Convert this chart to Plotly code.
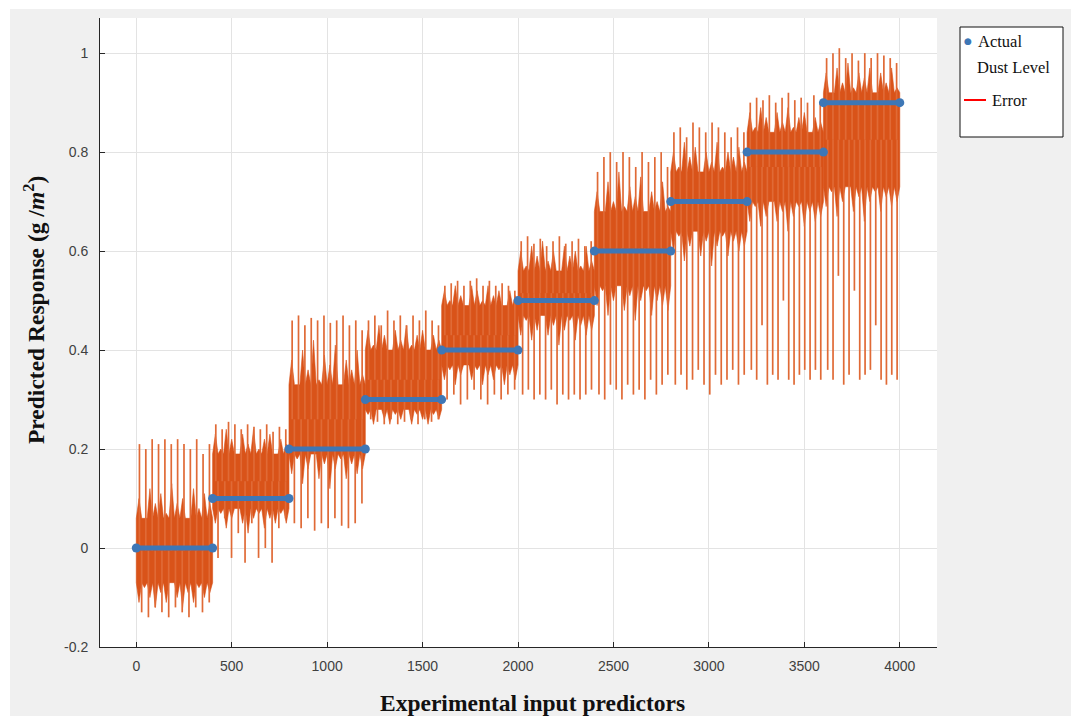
import numpy as np
import plotly.graph_objects as go

# ---------------- data ----------------
levels = [0.0, 0.1, 0.2, 0.3, 0.4, 0.5, 0.6, 0.7, 0.8, 0.9]
block_start = [0, 400, 800, 1200, 1600, 2000, 2400, 2800, 3200, 3600]
block_len = 400

# dense band of predictions: jagged upper / lower edge of each block
band_top = [
    [0.10, 0.06, 0.12, 0.09, 0.11, 0.07, 0.13, 0.09, 0.10, 0.06, 0.12, 0.08, 0.11, 0.09],
    [0.23, 0.20, 0.24, 0.22, 0.19, 0.23, 0.21, 0.24, 0.20, 0.22, 0.23, 0.19, 0.22, 0.21],
    [0.38, 0.33, 0.40, 0.36, 0.42, 0.34, 0.39, 0.37, 0.41, 0.33, 0.38, 0.36, 0.40, 0.35],
    [0.44, 0.41, 0.45, 0.43, 0.40, 0.44, 0.42, 0.45, 0.41, 0.43, 0.44, 0.40, 0.43, 0.42],
    [0.52, 0.50, 0.53, 0.51, 0.49, 0.53, 0.52, 0.50, 0.53, 0.51, 0.52, 0.49, 0.52, 0.51],
    [0.60, 0.57, 0.61, 0.59, 0.62, 0.58, 0.60, 0.56, 0.61, 0.59, 0.60, 0.57, 0.61, 0.58],
    [0.72, 0.68, 0.74, 0.70, 0.76, 0.69, 0.73, 0.71, 0.75, 0.68, 0.72, 0.70, 0.74, 0.69],
    [0.80, 0.77, 0.82, 0.79, 0.81, 0.76, 0.80, 0.78, 0.82, 0.77, 0.80, 0.79, 0.81, 0.78],
    [0.88, 0.85, 0.89, 0.87, 0.84, 0.88, 0.86, 0.89, 0.85, 0.87, 0.88, 0.84, 0.87, 0.86],
    [0.96, 0.92, 0.97, 0.94, 0.98, 0.93, 0.96, 0.95, 0.97, 0.92, 0.96, 0.94, 0.97, 0.93],
]
band_bottom = [
    [-0.11, -0.08, -0.10, -0.12, -0.09, -0.11, -0.07, -0.10, -0.12, -0.09, -0.11, -0.08, -0.10, -0.09],
    [0.05, 0.07, 0.04, 0.06, 0.08, 0.05, 0.03, 0.06, 0.07, 0.04, 0.06, 0.05, 0.07, 0.05],
    [0.15, 0.18, 0.13, 0.16, 0.19, 0.14, 0.17, 0.12, 0.16, 0.18, 0.14, 0.17, 0.15, 0.16],
    [0.27, 0.25, 0.28, 0.26, 0.25, 0.27, 0.26, 0.28, 0.25, 0.27, 0.26, 0.25, 0.27, 0.26],
    [0.34, 0.36, 0.33, 0.35, 0.37, 0.34, 0.36, 0.33, 0.35, 0.34, 0.36, 0.33, 0.35, 0.34],
    [0.43, 0.46, 0.42, 0.44, 0.47, 0.43, 0.45, 0.41, 0.44, 0.46, 0.42, 0.45, 0.43, 0.44],
    [0.49, 0.52, 0.47, 0.50, 0.53, 0.48, 0.51, 0.46, 0.50, 0.52, 0.47, 0.50, 0.49, 0.48],
    [0.60, 0.63, 0.58, 0.61, 0.64, 0.59, 0.62, 0.57, 0.61, 0.63, 0.59, 0.62, 0.60, 0.61],
    [0.66, 0.69, 0.65, 0.67, 0.70, 0.66, 0.68, 0.64, 0.67, 0.69, 0.65, 0.68, 0.66, 0.67],
    [0.69, 0.72, 0.67, 0.70, 0.73, 0.68, 0.71, 0.66, 0.70, 0.72, 0.68, 0.71, 0.69, 0.70],
]

# isolated large excursions (spikes) above and below the band
up_spikes = [
    [0.21, 0.20, 0.22, 0.21, 0.22, 0.21, 0.22, 0.21, 0.20, 0.22, 0.19, 0.21],
    [0.25, 0.24, 0.255, 0.25, 0.24, 0.25, 0.245, 0.24, 0.25, 0.235, 0.245, 0.24],
    [0.46, 0.47, 0.45, 0.465, 0.46, 0.47, 0.455, 0.46, 0.47, 0.45, 0.46, 0.44],
    [0.46, 0.47, 0.45, 0.48, 0.46, 0.47, 0.45, 0.47, 0.46, 0.48, 0.46, 0.45],
    [0.53, 0.535, 0.54, 0.53, 0.54, 0.545, 0.53, 0.54, 0.53, 0.535, 0.53, 0.52],
    [0.62, 0.63, 0.615, 0.625, 0.61, 0.62, 0.63, 0.615, 0.62, 0.625, 0.61, 0.62],
    [0.76, 0.79, 0.80, 0.78, 0.80, 0.79, 0.77, 0.80, 0.78, 0.79, 0.80, 0.77],
    [0.84, 0.85, 0.83, 0.86, 0.85, 0.84, 0.86, 0.85, 0.84, 0.83, 0.85, 0.84],
    [0.90, 0.91, 0.905, 0.915, 0.90, 0.91, 0.92, 0.905, 0.91, 0.90, 0.915, 0.90],
    [0.99, 1.00, 1.01, 0.99, 1.00, 0.985, 1.00, 0.99, 1.00, 0.995, 0.99, 0.98],
]
down_spikes = [
    [-0.13, -0.14, -0.12, -0.13, -0.14, -0.12, -0.13, -0.14, -0.12, -0.13, -0.11],
    [-0.02, 0.06, -0.02, 0.03, -0.03, 0.05, -0.02, 0.00, -0.03, 0.04, 0.06],
    [0.05, 0.04, 0.06, 0.035, 0.05, 0.04, 0.06, 0.045, 0.04, 0.05, 0.09],
    [0.26, 0.255, 0.25, 0.26, 0.25, 0.255, 0.26, 0.25, 0.26, 0.255, 0.26],
    [0.30, 0.31, 0.29, 0.30, 0.32, 0.30, 0.29, 0.31, 0.30, 0.31, 0.32],
    [0.31, 0.32, 0.30, 0.31, 0.30, 0.32, 0.29, 0.31, 0.30, 0.31, 0.30, 0.31, 0.32],
    [0.31, 0.30, 0.33, 0.32, 0.30, 0.33, 0.31, 0.32, 0.30, 0.34, 0.31, 0.33, 0.35],
    [0.33, 0.35, 0.32, 0.34, 0.36, 0.33, 0.31, 0.35, 0.33, 0.34, 0.36, 0.33, 0.35],
    [0.36, 0.34, 0.45, 0.33, 0.35, 0.34, 0.50, 0.34, 0.33, 0.35, 0.36, 0.34, 0.36, 0.34],
    [0.36, 0.34, 0.55, 0.33, 0.35, 0.52, 0.34, 0.35, 0.36, 0.45, 0.34, 0.33, 0.35, 0.34],
]

x_ticks = [0, 500, 1000, 1500, 2000, 2500, 3000, 3500, 4000]
y_ticks = [-0.2, 0, 0.2, 0.4, 0.6, 0.8, 1]
y_tick_text = ["-0.2", "0", "0.2", "0.4", "0.6", "0.8", "1"]

ORANGE = "#D95319"
ORANGE_SPIKE = "#E06A36"
BLUE = "#3E77B6"

fig = go.Figure()

# dense band (jagged polygon) for each block
for i in range(len(levels)):
    x0 = block_start[i]
    top, bot = band_top[i], band_bottom[i]
    n = len(top)
    step = block_len / n
    valley_top = min(top)
    valley_bot = max(bot)
    px, py = [x0], [valley_top]
    for k, v in enumerate(top):
        px += [x0 + (k + 0.5) * step, x0 + (k + 1) * step]
        py += [v, valley_top]
    px += [x0 + block_len]
    py += [valley_bot]
    for k, v in reversed(list(enumerate(bot))):
        px += [x0 + (k + 0.5) * step, x0 + k * step]
        py += [v, valley_bot]
    px += [x0]
    py += [valley_top]
    fig.add_trace(go.Scatter(x=px, y=py, mode="lines", fill="toself", fillcolor=ORANGE,
                             line=dict(width=0.6, color=ORANGE),
                             hoverinfo="skip", showlegend=False))

# spikes of the predicted response
sx, sy = [], []
for i in range(len(levels)):
    x0 = block_start[i]
    mid = 0.5 * (min(band_top[i]) + max(band_bottom[i]))
    n = len(up_spikes[i])
    for k, v in enumerate(up_spikes[i]):
        xx = x0 + (k + 0.5) * block_len / n
        sx += [xx, xx, None]
        sy += [mid, v, None]
    n = len(down_spikes[i])
    for k, v in enumerate(down_spikes[i]):
        xx = x0 + (k + 0.8) * block_len / (n + 0.3)
        sx += [xx, xx, None]
        sy += [v, mid, None]
fig.add_trace(go.Scatter(x=sx, y=sy, mode="lines",
                         line=dict(color=ORANGE_SPIKE, width=1.7),
                         hoverinfo="skip", showlegend=False))

# actual dust level
for i in range(len(levels)):
    x0, x1 = block_start[i], block_start[i] + block_len
    fig.add_trace(go.Scatter(x=[x0, x1], y=[levels[i], levels[i]], mode="lines+markers",
                             line=dict(color=BLUE, width=5),
                             marker=dict(color=BLUE, size=9),
                             hoverinfo="skip", showlegend=False))

# ---------------- layout ----------------
L, R, T, B = 100, 134, 18, 69
W, H = 1071, 716
pw, ph = W - L - R, H - T - B


def px2paper(px, py):
    return (px - L) / pw, (H - B - py) / ph


axis_common = dict(showgrid=True, gridcolor="#e3e3e3", gridwidth=1, zeroline=False,
                   showline=True, linecolor="#262626", linewidth=1, mirror=False,
                   ticks="inside", ticklen=5, tickcolor="#262626",
                   tickfont=dict(family="Liberation Sans, Arial", size=14, color="#404040"))

fig.update_layout(
    width=W, height=H, margin=dict(l=L, r=R, t=T, b=B),
    paper_bgcolor="#f0f0f0", plot_bgcolor="white", showlegend=False,
    xaxis=dict(range=[-190, 4195], tickvals=x_ticks, ticklabelstandoff=6, **axis_common),
    yaxis=dict(range=[-0.2, 1.071], tickvals=y_ticks, ticktext=y_tick_text, ticklabelstandoff=8,
               **axis_common),
)

title_font = dict(family="Liberation Serif, Times New Roman", color="#111")
ax_, ay_ = px2paper(532, 703)
fig.add_annotation(x=ax_, y=ay_, xref="paper", yref="paper", showarrow=False,
                   text="<b>Experimental input predictors</b>", xanchor="center", yanchor="middle",
                   font=dict(size=23.5, **title_font))
ax_, ay_ = px2paper(34, 310)
fig.add_annotation(x=ax_, y=ay_, xref="paper", yref="paper", showarrow=False, textangle=-90,
                   text="<b>Predicted Response (g /<i>m</i><sup>2</sup>)</b>", xanchor="center",
                   yanchor="middle", font=dict(size=23.5, **title_font))

# white outer strip on top/left like the screenshot
fig.add_shape(type="rect", xref="paper", yref="paper", layer="below",
              x0=px2paper(0, 0)[0], x1=px2paper(W, 0)[0], y0=px2paper(0, 9)[1], y1=px2paper(0, 0)[1] + 0.05,
              fillcolor="white", line=dict(width=0))
fig.add_shape(type="rect", xref="paper", yref="paper", layer="below",
              x0=px2paper(0, 0)[0] - 0.05, x1=px2paper(10, 0)[0], y0=px2paper(0, H)[1], y1=px2paper(0, 0)[1],
              fillcolor="white", line=dict(width=0))

# legend box (drawn manually to match the reference)
lx0, ly1 = px2paper(960, 27)
lx1, ly0 = px2paper(1063, 137)
fig.add_shape(type="rect", xref="paper", yref="paper", x0=lx0, x1=lx1, y0=ly0, y1=ly1,
              fillcolor="white", line=dict(color="#111", width=1))
ex0, ey = px2paper(964, 100)
ex1, _ = px2paper(986, 100)
fig.add_shape(type="line", xref="paper", yref="paper", x0=ex0, x1=ex1, y0=ey, y1=ey,
              line=dict(color="#FF0000", width=2))
legend_font = dict(family="Liberation Serif, Times New Roman", size=16.5, color="#111")
for txt, (px, py), col in [("●", (968, 41), BLUE), ("Actual", (976, 42), None),
                           ("Dust Level", (975, 68), None), ("Error", (990, 100), None)]:
    ax, ay = px2paper(px, py)
    f = dict(legend_font)
    if col:
        f = dict(family="DejaVu Sans", size=9, color=col)
        xa = "center"
    else:
        xa = "left"
    fig.add_annotation(x=ax, y=ay, xref="paper", yref="paper", text=txt, showarrow=False,
                       xanchor=xa, yanchor="middle", font=f)

fig.write_html("out.html")
